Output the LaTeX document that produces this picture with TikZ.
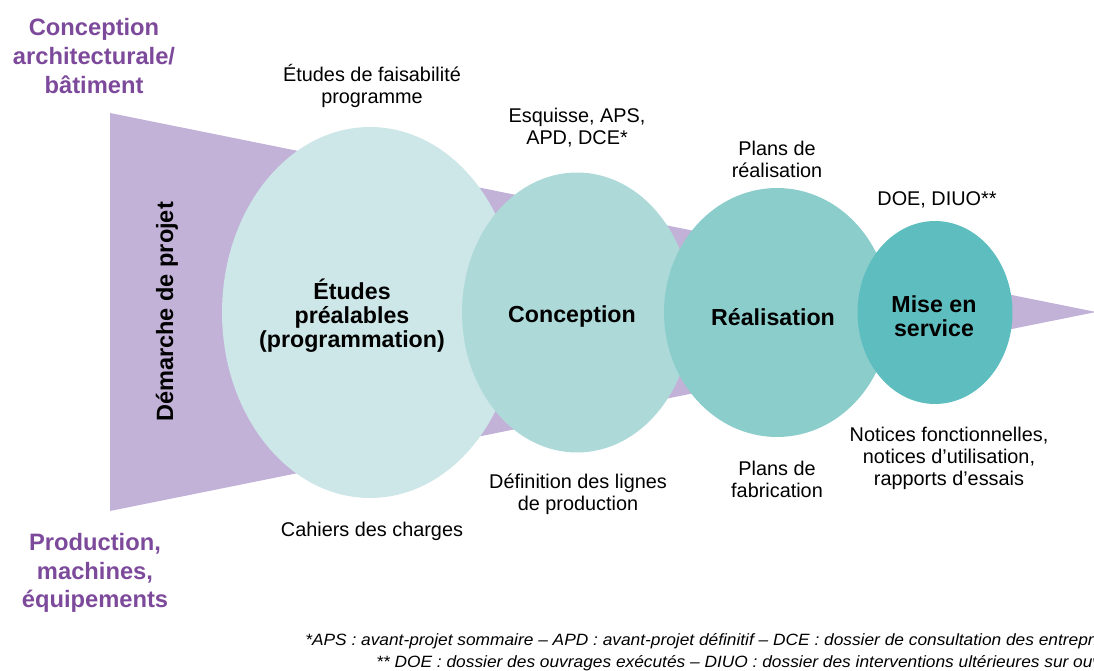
\documentclass[tikz,border=0pt]{standalone}
\usepackage{fontspec}
\setmainfont{Liberation Sans}
\newfontfamily\notefont[FakeStretch=1.06]{Liberation Sans}
\usepackage{tikz}
\usetikzlibrary{shapes.geometric}

\definecolor{mauve}{RGB}{194,178,216}
\definecolor{violet}{RGB}{125,74,155}
\definecolor{tealA}{RGB}{205,230,231}
\definecolor{tealB}{RGB}{173,217,217}
\definecolor{tealC}{RGB}{138,205,203}
\definecolor{tealD}{RGB}{94,190,191}

\begin{document}
\begin{tikzpicture}[x=0.02cm,y=-0.02cm]

	\tikzset{phase/.style = {shape=ellipse,inner sep=0pt}}
	\tikzset{phasetext/.style = {align=center,inner sep=0pt,
			font=\fontsize{13.2}{13.6}\selectfont\bfseries}}
	\tikzset{side/.style = {align=center,text=violet,
			font=\fontsize{13.5}{16.4}\selectfont\bfseries}}
	\tikzset{doc/.style = {align=center,inner sep=0pt,
			font=\fontsize{11.3}{12.5}\selectfont}}
	\tikzset{note/.style = {anchor=base west,inner sep=0pt,
			font=\notefont\fontsize{9.3}{10}\selectfont\itshape}}

	\useasboundingbox (0,0) rectangle (1094,671);
	\clip (0,0) rectangle (1094,671);

	% entonnoir
	\fill[mauve] (110,113) -- (1096,312) -- (110,511) -- cycle;
	\node[rotate=90,font=\fontsize{13.4}{14}\selectfont\bfseries] (demarche) at (167,312) {Démarche de projet};

	\node[side] (batiment) at (94,56) {Conception\\architecturale/\\bâtiment};
	\node[side] (production) at (95,573) {Production,\\machines,\\équipements};

	% phases
	\node[phase,fill=tealA,minimum width=5.92cm,minimum height=7.42cm] (etudes) at (370,312.5) {};
	\node[phase,fill=tealB,minimum width=4.6cm,minimum height=5.6cm] (conception) at (577,312.5) {};
	\node[phase,fill=tealC,minimum width=4.52cm,minimum height=4.98cm] (realisation) at (777,312.5) {};
	\node[phase,fill=tealD,minimum width=3.1cm,minimum height=3.66cm] (service) at (935,312.5) {};

	\node[phasetext] (etudes-t) at (352,316) {Études\\préalables\\(programmation)};
	\node[phasetext] (conception-t) at (572,317) {Conception};
	\node[phasetext] (realisation-t) at (773,317) {Réalisation};
	\node[phasetext] (service-t) at (934,316) {Mise en\\service};

	% livrables
	\node[doc] (faisab) at (372,86) {Études de faisabilité\\programme};
	\node[doc] (esquisse) at (577,128) {Esquisse, APS,\\APD, DCE*};
	\node[doc] (plansr) at (777,159) {Plans de\\réalisation};
	\node[doc] (doe) at (937,200) {DOE, DIUO**};
	\node[doc] (cahiers) at (372,531) {Cahiers des charges};
	\node[doc] (lignes) at (578,494) {Définition des lignes\\de production};
	\node[doc] (plansf) at (777,479) {Plans de\\fabrication};
	\node[doc] (notices) at (949,458) {Notices fonctionnelles,\\notices d’utilisation,\\rapports d’essais};

	% notes
	\node[note] (note1) at (305,645) {*APS : avant-projet sommaire – APD : avant-projet définitif – DCE : dossier de consultation des entreprises};
	\node[note] (note2) at (376,667) {** DOE : dossier des ouvrages exécutés – DIUO : dossier des interventions ultérieures sur ouvrages};
\end{tikzpicture}
\end{document}
